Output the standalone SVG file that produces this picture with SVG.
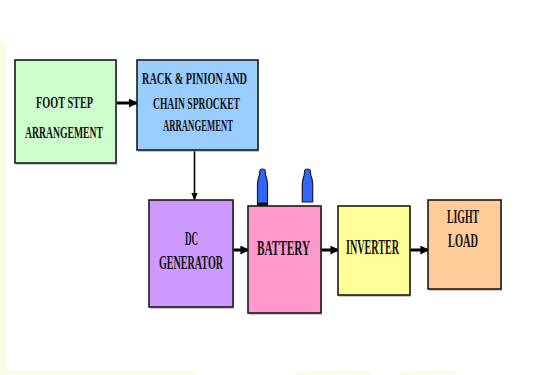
<svg xmlns="http://www.w3.org/2000/svg" width="547" height="375" viewBox="0 0 547 375">
<defs>
<style>
.box{stroke:#1a1a1a;stroke-width:1.6}
.shadow{fill:#9a9a9a;opacity:0.55}
.lbl{font-family:"Liberation Serif","Times New Roman",serif;font-weight:bold;fill:#111;text-anchor:start}
.thick{stroke:#000;stroke-width:3;fill:none}
.thin{stroke:#000;stroke-width:1.6;fill:none}
.term{fill:#3366ff;stroke:#1a1a2a;stroke-width:1.2}
.bg{fill:#f7fde3}
</style>
<marker id="ah" viewBox="0 0 10 10" refX="9" refY="5" markerWidth="3" markerHeight="3" orient="auto" markerUnits="strokeWidth">
<path d="M0,0 L10,5 L0,10 Z" fill="#000"/>
</marker>
<marker id="ahs" viewBox="0 0 10 10" refX="9" refY="5" markerWidth="5" markerHeight="5" orient="auto" markerUnits="strokeWidth">
<path d="M0,1 L10,5 L0,9 Z" fill="#000"/>
</marker>
</defs>
<rect width="547" height="375" fill="#ffffff"/>
<g id="background">
<path class="bg" d="M0,38 Q4,42 6,50 L6,371 L190,371 L198,375 L0,375 Z"/>
<path class="bg" d="M295,372 Q330,370 370,371 L370,375 L295,375 Z"/>
<path class="bg" d="M400,372 Q430,370 456,371 L456,375 L400,375 Z"/>
</g>
<g id="connectors">
<line class="thick" x1="117" y1="103" x2="137" y2="103" marker-end="url(#ah)"/>
<line class="thin" x1="194.5" y1="150" x2="194.5" y2="200" marker-end="url(#ahs)"/>
<line class="thick" x1="233" y1="250" x2="248.5" y2="250" marker-end="url(#ah)"/>
<line class="thick" x1="321" y1="250" x2="338.5" y2="250" marker-end="url(#ah)"/>
<line class="thick" x1="410" y1="250" x2="428.5" y2="250" marker-end="url(#ah)"/>
</g>
<g id="foot-step">
<rect class="shadow" x="16" y="61" width="101" height="104"/>
<rect class="box" x="15" y="60" width="101" height="103" fill="#ccffcc"/>
<text class="lbl" x="36" y="108" font-size="17" textLength="57" lengthAdjust="spacingAndGlyphs">FOOT STEP</text>
<text class="lbl" x="25" y="138" font-size="17" textLength="78" lengthAdjust="spacingAndGlyphs">ARRANGEMENT</text>
</g>
<g id="rack-pinion">
<rect class="shadow" x="138" y="61" width="121" height="91"/>
<rect class="box" x="137" y="60" width="121" height="90" fill="#99ccff"/>
<text class="lbl" x="142" y="84" font-size="16.5" textLength="105" lengthAdjust="spacingAndGlyphs">RACK &amp; PINION AND</text>
<text class="lbl" x="153" y="108.5" font-size="16.5" textLength="87" lengthAdjust="spacingAndGlyphs">CHAIN SPROCKET</text>
<text class="lbl" x="163" y="131" font-size="16.5" textLength="70" lengthAdjust="spacingAndGlyphs">ARRANGEMENT</text>
</g>
<g id="dc-generator">
<rect class="shadow" x="150" y="201" width="84" height="108"/>
<rect class="box" x="149" y="200" width="84" height="107" fill="#cc99ff"/>
<text class="lbl" x="185" y="245" font-size="19" textLength="13" lengthAdjust="spacingAndGlyphs">DC</text>
<text class="lbl" x="159" y="269" font-size="19" textLength="64" lengthAdjust="spacingAndGlyphs">GENERATOR</text>
</g>
<g id="battery">
<path class="term" d="M257.5,206 L257.5,184 Q258,178 259.5,175 L259.8,171 Q260,169 262.5,169 Q265,169 265.2,171 L265.5,175 Q267,178 267.5,184 L267.5,206 Z"/>
<rect x="258" y="202.5" width="9" height="3" fill="#111"/>
<path class="term" d="M302.3,202 L302.3,184 Q302.8,178 304.3,175 L304.6,171 Q304.8,169 307.5,169 Q310.2,169 310.4,171 L310.7,175 Q312.2,178 312.7,184 L312.7,202 Z"/>
<rect class="shadow" x="249" y="207" width="73" height="108"/>
<rect class="box" x="248" y="206" width="73" height="107" fill="#ff99cc"/>
<text class="lbl" x="257" y="255" font-size="21" textLength="53" lengthAdjust="spacingAndGlyphs">BATTERY</text>
</g>
<g id="inverter">
<rect class="shadow" x="339" y="207" width="72" height="90"/>
<rect class="box" x="338" y="206" width="72" height="89" fill="#ffff99"/>
<text class="lbl" x="346" y="254" font-size="20" textLength="53" lengthAdjust="spacingAndGlyphs">INVERTER</text>
</g>
<g id="light-load">
<rect class="shadow" x="429" y="201" width="73" height="90"/>
<rect class="box" x="428" y="200" width="73" height="89" fill="#ffcc99"/>
<text class="lbl" x="447" y="223" font-size="19" textLength="32" lengthAdjust="spacingAndGlyphs">LIGHT</text>
<text class="lbl" x="448" y="247" font-size="19" textLength="30" lengthAdjust="spacingAndGlyphs">LOAD</text>
</g>
</svg>
